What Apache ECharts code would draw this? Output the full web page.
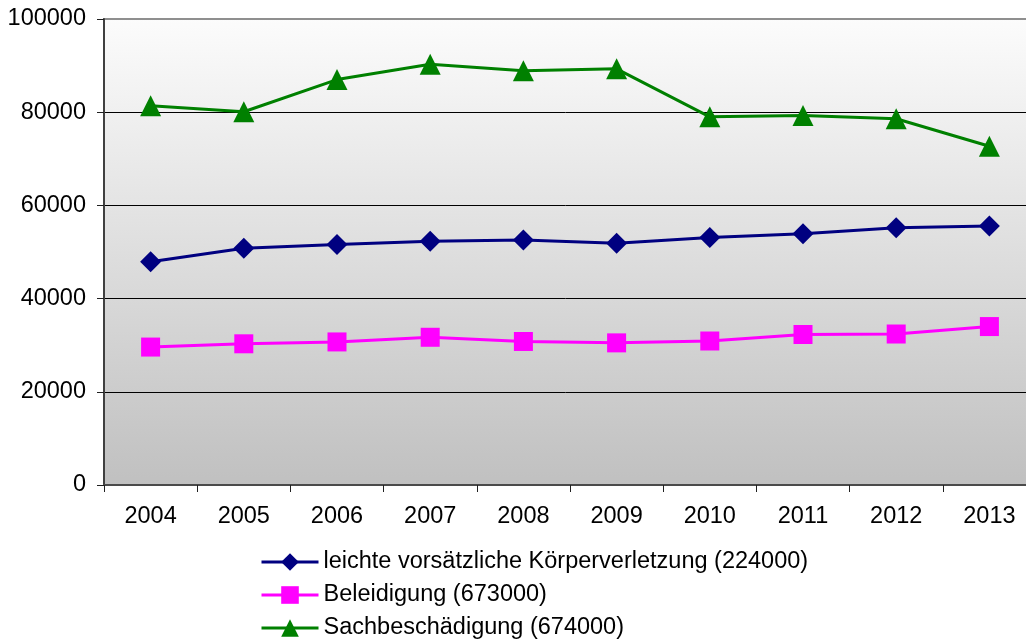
<!DOCTYPE html>
<html>
<head>
<meta charset="utf-8">
<script src="https://cdn.jsdelivr.net/npm/echarts@6/dist/echarts.min.js"></script>
<style>
  html, body { margin: 0; padding: 0; background: #ffffff; }
  #chart { width: 1026px; height: 639px; }
</style>
</head>
<body>
<div id="chart"></div>
<script>
// Jahre (Kategorien)
const years = ['2004', '2005', '2006', '2007', '2008', '2009', '2010', '2011', '2012', '2013'];

// Fallzahlen je Delikt
const koerperverletzung = [47900, 50800, 51600, 52300, 52600, 51900, 53100, 53900, 55200, 55600];
const beleidigung       = [29600, 30300, 30700, 31700, 30800, 30500, 30900, 32300, 32400, 34000];
const sachbeschaedigung = [81400, 80100, 87000, 90300, 88900, 89300, 79000, 79300, 78600, 72700];

// Legendenbezeichnungen
const seriesNames = [
  'leichte vorsätzliche Körperverletzung (224000)',
  'Beleidigung (673000)',
  'Sachbeschädigung (674000)'
];

const FONT = '"Liberation Sans", Arial, sans-serif';
const FS = 23.5;

const chart = echarts.init(document.getElementById('chart'), null, { renderer: 'canvas' });

chart.setOption({
  animation: false,
  backgroundColor: '#ffffff',
  textStyle: { fontFamily: FONT },
  grid: {
    left: 104,
    top: 19,
    width: 932,
    height: 466,
    outerBoundsMode: 'none',
    containLabel: false,
    show: true,
    borderWidth: 2,
    borderColor: '#8f8f8f',
    backgroundColor: new echarts.graphic.LinearGradient(0, 0, 0, 1, [
      { offset: 0, color: '#fcfcfc' },
      { offset: 0.5, color: '#dedede' },
      { offset: 1, color: '#c0c0c0' }
    ])
  },
  legend: {
    type: 'plain',
    orient: 'vertical',
    left: 260,
    top: 549,
    height: 120,
    padding: 0,
    itemWidth: 57,
    itemHeight: 22,
    itemGap: 7,
    lineStyle: { width: 3 },
    textStyle: {
      fontFamily: FONT, fontSize: FS, color: '#000000',
      lineHeight: 26, padding: [0, 0, 0, 0]
    },
    data: seriesNames
  },
  xAxis: {
    type: 'category',
    data: years,
    boundaryGap: true,
    axisLine: { show: true, lineStyle: { color: '#4a4a4a', width: 2 } },
    axisTick: { show: true, length: 7, lineStyle: { color: '#202020', width: 1 } },
    axisLabel: { color: '#000000', fontFamily: FONT, fontSize: FS, margin: 20 },
    splitLine: { show: false }
  },
  yAxis: {
    type: 'value',
    min: 0,
    max: 100000,
    interval: 20000,
    axisLine: { show: true, lineStyle: { color: '#404040', width: 2 } },
    axisTick: { show: true, length: 7, lineStyle: { color: '#202020', width: 1 } },
    axisLabel: {
      color: '#000000', fontFamily: FONT, fontSize: FS, margin: 18,
      formatter: function (v) { return String(v); }
    },
    splitLine: {
      show: true,
      lineStyle: {
        color: ['#000000', '#000000', '#000000', '#000000', '#000000', '#8f8f8f'],
        width: 1
      }
    }
  },
  series: [
    {
      name: seriesNames[0],
      type: 'line',
      data: koerperverletzung,
      symbol: 'diamond',
      symbolSize: 21,
      lineStyle: { color: '#000080', width: 3 },
      itemStyle: { color: '#000080' },
      z: 3
    },
    {
      name: seriesNames[1],
      type: 'line',
      data: beleidigung,
      symbol: 'rect',
      symbolSize: 19,
      lineStyle: { color: '#ff00ff', width: 3 },
      itemStyle: { color: '#ff00ff' },
      z: 3
    },
    {
      name: seriesNames[2],
      type: 'line',
      data: sachbeschaedigung,
      symbol: 'triangle',
      symbolSize: 21,
      lineStyle: { color: '#008000', width: 3 },
      itemStyle: { color: '#008000' },
      z: 3
    }
  ]
});
</script>
</body>
</html>
